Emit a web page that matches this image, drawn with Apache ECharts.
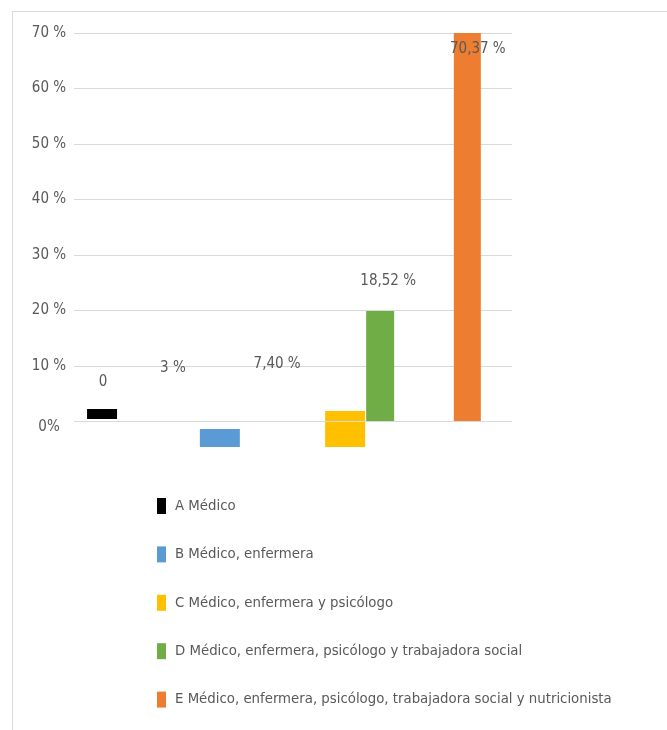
<!DOCTYPE html>
<html>
<head>
<meta charset="utf-8">
<script src="https://cdn.jsdelivr.net/npm/echarts@6/dist/echarts.min.js"></script>
<style>
html,body{margin:0;padding:0;background:#fff;}
#chart{width:667px;height:730px;}
</style>
</head>
<body>
<div id="chart"></div>
<script>
// ---- data ----
const categories = [
  'A Médico',
  'B Médico, enfermera',
  'C Médico, enfermera y psicólogo',
  'D Médico, enfermera, psicólogo y trabajadora social',
  'E Médico, enfermera, psicólogo, trabajadora social y nutricionista'
];
// bar extents as drawn in the picture (in %)
const barTop    = [2.25, -1.35, 1.9, 19.9, 70];
const barBottom = [0.45, -4.6, -4.6, 0, 0];
// data label texts
const valueLabels = ['0', '3 %', '7,40 %', '18,52 %', '70,37 %'];
// y axis ticks
const yMin = -10, yMax = 70, yStep = 10;

// ---- layout / style ----
const colors = ['#000000', '#5b9bd5', '#ffc000', '#70ad47', '#ed7d31'];
const slotX = [6.4, 33.3, 61.9, 69.9, 89.8];      // bar centre along hidden x axes (0..100)
const barWidths = [30, 40, 40, 28, 27];
const labelOffsets = [[1, -27], [-47, -61], [-68, -47], [8, -30], [10.5, 16]];
const FONT = '"Liberation Sans Narrow", "DejaVu Sans Condensed", sans-serif';
const TXT = '#595959';
const GRID = '#d9d9d9';

const xAxes = categories.map(() => ({
  type: 'value', min: 0, max: 100, show: false
}));

const series = [];
categories.forEach((name, i) => {
  const top = barTop[i], bot = barBottom[i];
  const pieces = [];
  if (bot >= 0) {
    if (bot > 0) pieces.push({ v: bot, hidden: true });
    pieces.push({ v: top - bot, labelled: true });
  } else if (top <= 0) {
    if (top < 0) pieces.push({ v: top, hidden: true });
    pieces.push({ v: bot - top, labelled: true });
  } else {
    pieces.push({ v: top, labelled: true });
    pieces.push({ v: bot });
  }
  pieces.forEach((p) => {
    series.push({
      type: 'bar',
      name: p.hidden ? '_base' + i : name,
      xAxisIndex: i,
      stack: 's' + i,
      barWidth: barWidths[i],
      // value first so the stacked dimension is the y value
      data: [[p.v, slotX[i]]],
      encode: { x: 1, y: 0 },
      itemStyle: { color: p.hidden ? 'rgba(0,0,0,0)' : colors[i] },
      silent: !!p.hidden,
      emphasis: { disabled: true },
      label: p.labelled ? {
        show: true,
        position: ['50%', 0],
        align: 'center',
        verticalAlign: 'middle',
        offset: labelOffsets[i],
        formatter: () => valueLabels[i],
        color: TXT,
        fontFamily: FONT,
        fontSize: 15
      } : { show: false }
    });
  });
});
// zero line drawn over the bars, as in the original
series.push({
  type: 'line', name: '_zero', xAxisIndex: 0, data: [], silent: true,
  markLine: {
    silent: true, symbol: ['none', 'none'], label: { show: false },
    lineStyle: { color: GRID, type: 'solid', width: 1 },
    emphasis: { disabled: true },
    data: [{ yAxis: 0 }]
  }
});

const chart = echarts.init(document.getElementById('chart'));
chart.setOption({
  animation: false,
  color: colors,
  graphic: [{
    type: 'rect',
    shape: { x: 12.5, y: 11.5, width: 720, height: 800 },
    style: { fill: 'none', stroke: GRID, lineWidth: 1 },
    silent: true
  }],
  grid: { left: 74, top: 33, width: 438, height: 444 },
  xAxis: xAxes,
  yAxis: {
    type: 'value', min: yMin, max: yMax, interval: yStep,
    axisLine: { show: false }, axisTick: { show: false },
    splitLine: { lineStyle: { color: ['rgba(0,0,0,0)', GRID, GRID, GRID, GRID, GRID, GRID, GRID, GRID], width: 1 } },
    axisLabel: {
      align: 'center', margin: 25, color: TXT, fontFamily: FONT, fontSize: 15,
      formatter: (v) => v < 0 ? '' : (v === 0 ? '{z|0%}' : v + ' %'),
      rich: { z: { color: TXT, fontFamily: FONT, fontSize: 15, padding: [12, 0, 0, 0] } }
    }
  },
  legend: {
    data: categories,
    orient: 'vertical',
    left: 157, top: 498,
    padding: 0,
    itemWidth: 9, itemHeight: 16, itemGap: 32.4,
    icon: 'rect',
    textStyle: { color: TXT, fontFamily: FONT, fontSize: 14.8, padding: [0, 0, 0, 4] },
    selectedMode: false
  },
  series: series
});
</script>
</body>
</html>
